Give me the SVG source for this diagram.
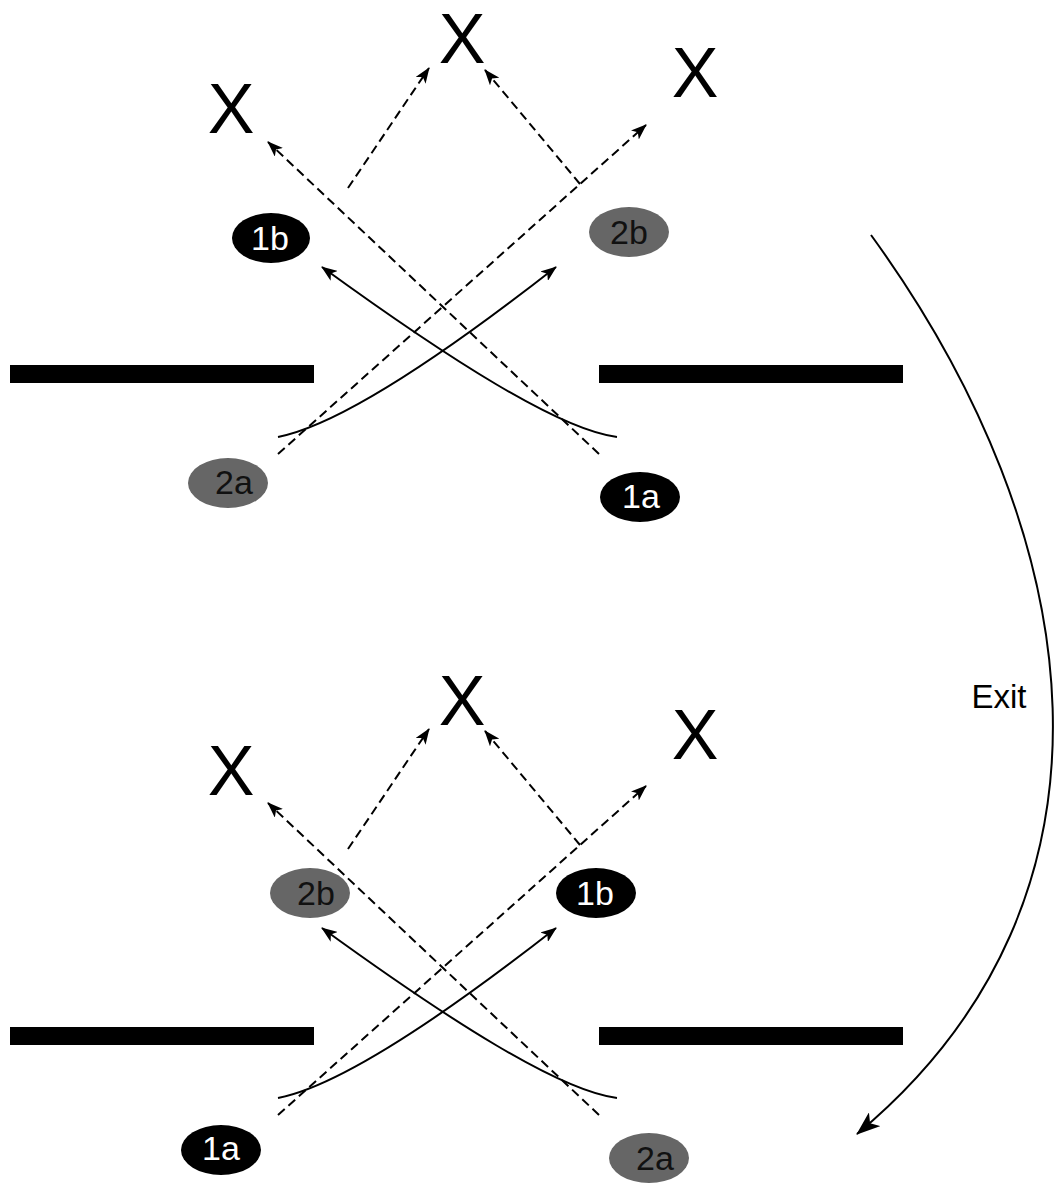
<svg xmlns="http://www.w3.org/2000/svg" width="1054" height="1190" viewBox="0 0 1054 1190">
  <style>
    text { font-family: "Liberation Sans", Arial, Helvetica, sans-serif; }
    .bar { fill: #000; }
    .xmark { font-size: 70px; text-anchor: middle; fill: #000; }
    .lbl { font-size: 34px; text-anchor: middle; }
    .n1 ellipse { fill: #000; }
    .n1 text { fill: #fff; }
    .n2 ellipse { fill: #666; }
    .n2 text { fill: #111; }
    .dash { fill: none; stroke: #000; stroke-width: 2; stroke-dasharray: 9 5; marker-end: url(#head); }
    .path { fill: none; stroke: #000; stroke-width: 2; marker-end: url(#head); }
    .exit { fill: none; stroke: #000; stroke-width: 2; marker-end: url(#bighead); }
  </style>
  <defs>
    <marker id="head" viewBox="0 0 16 12" refX="15" refY="6" markerWidth="16" markerHeight="12" markerUnits="userSpaceOnUse" orient="auto">
      <path d="M0,0 L16,6 L0,12 L4,6 Z" fill="#000"/>
    </marker>
    <marker id="bighead" viewBox="0 0 24 18" refX="23" refY="9" markerWidth="24" markerHeight="18" markerUnits="userSpaceOnUse" orient="auto">
      <path d="M0,0 L24,9 L0,18 L6,9 Z" fill="#000"/>
    </marker>
  </defs>

  <rect width="1054" height="1190" fill="#fff"/>

  <!-- membrane segments with the gap between them -->
  <g id="barriers">
    <rect class="bar" x="10" y="365" width="304" height="18"/>
    <rect class="bar" x="599" y="365" width="304" height="18"/>
    <rect class="bar" x="10" y="1027" width="304" height="18"/>
    <rect class="bar" x="599" y="1027" width="304" height="18"/>
  </g>

  <!-- blocked targets -->
  <g id="x-top-left"><text class="xmark" x="231" y="133">X</text></g>
  <g id="x-top-mid"><text class="xmark" x="462" y="63">X</text></g>
  <g id="x-top-right"><text class="xmark" x="695" y="97">X</text></g>
  <g id="x-bot-left"><text class="xmark" x="231" y="795">X</text></g>
  <g id="x-bot-mid"><text class="xmark" x="462" y="725">X</text></g>
  <g id="x-bot-right"><text class="xmark" x="695" y="759">X</text></g>

  <!-- upper state -->
  <g id="top-1b" class="n1"><ellipse cx="271" cy="238" rx="39" ry="25"/><text class="lbl" x="270" y="250">1b</text></g>
  <g id="top-2b" class="n2"><ellipse cx="629" cy="232" rx="40" ry="25"/><text class="lbl" x="629" y="244">2b</text></g>
  <g id="top-2a" class="n2"><ellipse cx="228" cy="483" rx="40" ry="25"/><text class="lbl" x="234" y="494">2a</text></g>
  <g id="top-1a" class="n1"><ellipse cx="640" cy="497" rx="40" ry="25"/><text class="lbl" x="641" y="508">1a</text></g>

  <!-- lower state -->
  <g id="bot-2b" class="n2"><ellipse cx="310" cy="893" rx="40" ry="25"/><text class="lbl" x="316" y="905">2b</text></g>
  <g id="bot-1b" class="n1"><ellipse cx="596" cy="893" rx="40" ry="25"/><text class="lbl" x="595" y="905">1b</text></g>
  <g id="bot-1a" class="n1"><ellipse cx="221" cy="1150" rx="40" ry="25"/><text class="lbl" x="221" y="1160">1a</text></g>
  <g id="bot-2a" class="n2"><ellipse cx="649" cy="1158" rx="40" ry="25"/><text class="lbl" x="655" y="1170">2a</text></g>

  <g id="connectors">
    <g id="top-links">
      <path class="dash" d="M599,454 L268,142"/>
      <path class="dash" d="M278,454 L646,125"/>
      <path class="dash" d="M348,188 L429,68"/>
      <path class="dash" d="M580,184 L485,70"/>
      <path class="path" d="M278,437 C340,425 450,350 556,267"/>
      <path class="path" d="M617,437 C560,430 450,360 322,267"/>
    </g>
    <g id="bottom-links" transform="translate(0,661)">
      <path class="dash" d="M599,454 L268,142"/>
      <path class="dash" d="M278,454 L646,125"/>
      <path class="dash" d="M348,188 L429,68"/>
      <path class="dash" d="M580,184 L485,70"/>
      <path class="path" d="M278,437 C340,425 450,350 556,267"/>
      <path class="path" d="M617,437 C560,430 450,360 322,267"/>
    </g>
    <g id="exit-link">
      <path class="exit" d="M871,235 C1089,535 1142,897 857,1134"/>
      <text x="999" y="708" font-size="33" text-anchor="middle" fill="#000">Exit</text>
    </g>
  </g>
</svg>
